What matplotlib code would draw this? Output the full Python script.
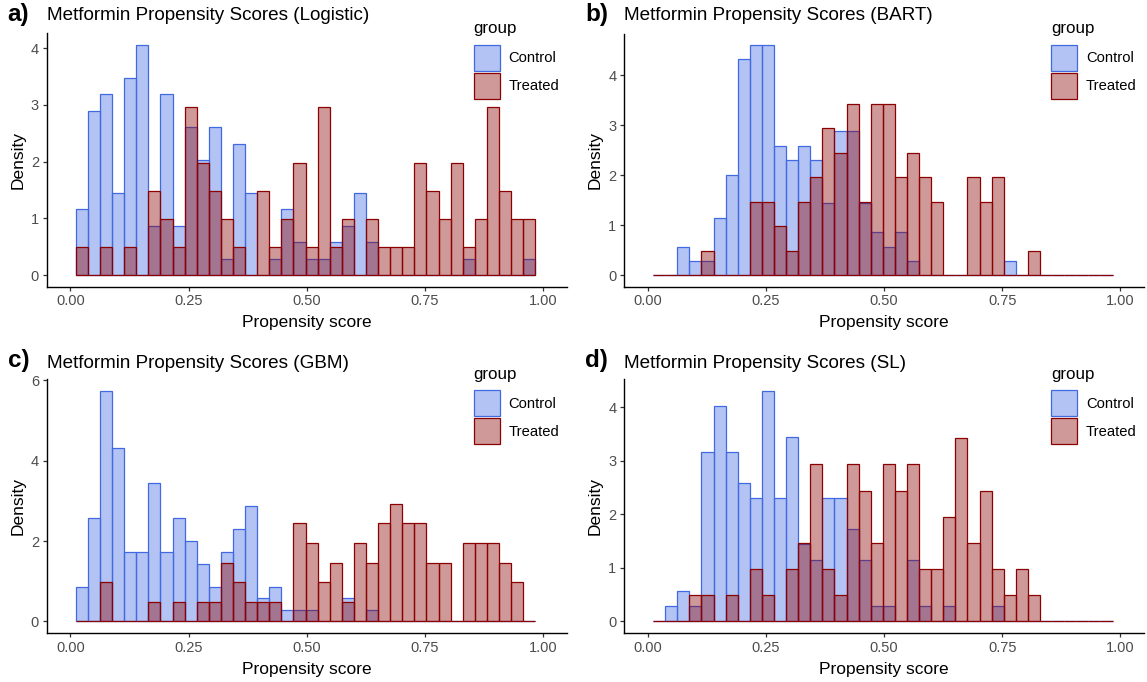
import numpy as np
import matplotlib
matplotlib.use("Agg")
import matplotlib.pyplot as plt
from matplotlib.patches import Patch
from matplotlib.colors import to_rgba

plt.rcParams['font.family'] = ['Liberation Sans', 'DejaVu Sans']

# Histogram binning shared by all four panels (38 bins)
bin_lo, bin_hi, n_bins = 0.0115, 0.9835, 38

# Counts per bin for each propensity-score model
logistic_control = [4, 10, 11, 5, 12, 14, 3, 11, 3, 9, 7, 9, 1, 8, 5, 0, 1, 4, 2, 1,
                    1, 2, 3, 5, 2, 0, 0, 0, 0, 0, 0, 0, 1, 0, 0, 0, 0, 1]
logistic_treated = [1, 0, 1, 0, 1, 0, 3, 2, 1, 6, 4, 3, 2, 1, 0, 3, 1, 2, 4, 1,
                    6, 1, 2, 0, 2, 1, 1, 1, 4, 3, 2, 4, 1, 2, 6, 3, 2, 2]

bart_control = [0, 0, 2, 1, 1, 4, 7, 15, 16, 16, 9, 8, 9, 8, 5, 10, 10, 5, 3, 2,
                3, 1, 0, 0, 0, 0, 0, 0, 0, 1, 0, 0, 0, 0, 0, 0, 0, 0]
bart_treated = [0, 0, 0, 0, 1, 0, 0, 0, 3, 3, 2, 1, 3, 4, 6, 5, 7, 3, 7, 7,
                4, 5, 4, 3, 0, 0, 4, 3, 4, 0, 0, 1, 0, 0, 0, 0, 0, 0]

gbm_control = [3, 9, 20, 15, 6, 6, 12, 6, 9, 7, 5, 3, 6, 8, 10, 2, 3, 1, 1, 1,
               0, 0, 2, 0, 1, 0, 0, 0, 0, 0, 0, 0, 0, 0, 0, 0, 0, 0]
gbm_treated = [0, 0, 2, 0, 0, 0, 1, 0, 1, 0, 1, 1, 3, 2, 1, 1, 1, 0, 5, 4,
               2, 3, 1, 4, 3, 5, 6, 5, 5, 3, 3, 0, 4, 4, 4, 3, 2, 0]

sl_control = [0, 1, 2, 1, 11, 14, 11, 9, 8, 15, 8, 12, 5, 4, 8, 8, 6, 4, 1, 1,
              0, 4, 1, 0, 1, 0, 0, 0, 1, 0, 0, 0, 0, 0, 0, 0, 0, 0]
sl_treated = [0, 0, 0, 1, 1, 0, 1, 0, 2, 1, 0, 2, 3, 6, 2, 1, 6, 5, 3, 6,
              5, 6, 2, 2, 4, 7, 3, 5, 2, 1, 2, 1, 0, 0, 0, 0, 0, 0]

tags = ["a)", "b)", "c)", "d)"]
titles = ["Metformin Propensity Scores (Logistic)",
          "Metformin Propensity Scores (BART)",
          "Metformin Propensity Scores (GBM)",
          "Metformin Propensity Scores (SL)"]
panels = [(logistic_control, logistic_treated),
          (bart_control, bart_treated),
          (gbm_control, gbm_treated),
          (sl_control, sl_treated)]
group_labels = ["Control", "Treated"]
x_ticks = [0.0, 0.25, 0.5, 0.75, 1.0]
x_tick_labels = ["0.00", "0.25", "0.50", "0.75", "1.00"]
y_tick_sets = [[0, 1, 2, 3, 4], [0, 1, 2, 3, 4], [0, 2, 4, 6], [0, 1, 2, 3, 4]]

# Panel boxes in pixels: left, top, right, bottom
W, H = 1147, 682
boxes = [(46.7, 33.5, 566.7, 286.8),
         (624.0, 33.5, 1144.0, 286.8),
         (46.7, 379.0, 566.7, 633.0),
         (624.0, 379.0, 1144.0, 633.0)]

colors = ["royalblue", "darkred"]
fill_alpha = 0.4
text_grey = "#4D4D4D"

edges = np.linspace(bin_lo, bin_hi, n_bins + 1)
width = edges[1] - edges[0]
centers = (edges[:-1] + edges[1:]) / 2

fig = plt.figure(figsize=(W / 100, H / 100), dpi=100)

for i, ((ctrl, trt), box) in enumerate(zip(panels, boxes)):
    l, t, r, b = box
    ax = fig.add_axes([l / W, 1 - b / H, (r - l) / W, (b - t) / H])
    ymax = 0
    for counts, col in zip((ctrl, trt), colors):
        counts = np.asarray(counts, dtype=float)
        dens = counts / (counts.sum() * width)
        ymax = max(ymax, dens.max())
        ax.bar(centers, dens, width=width, align="center",
               facecolor=to_rgba(col, fill_alpha), edgecolor=col,
               linewidth=0.9)
    ax.set_xlim(-0.05, 1.05)
    ax.set_ylim(-0.05 * ymax, 1.05 * ymax)
    ax.set_xticks(x_ticks)
    ax.set_xticklabels(x_tick_labels)
    ax.set_yticks(y_tick_sets[i])
    for s in ("top", "right"):
        ax.spines[s].set_visible(False)
    for s in ("left", "bottom"):
        ax.spines[s].set_linewidth(1.0)
        ax.spines[s].set_color("black")
    ax.tick_params(axis="both", length=3, width=0.9, color="#333333",
                   labelsize=10.5, labelcolor=text_grey, pad=2.5)
    ax.set_xlabel("Propensity score", fontsize=12.5, labelpad=5)
    ax.set_ylabel("Density", fontsize=12.5, labelpad=4)

    # tag and title above the panel
    base = t - 13 if i < 2 else t - 11.5
    fig.text(l / W, 1 - base / H, titles[i], fontsize=13.6,
             ha="left", va="baseline")
    fig.text((l - 39) / W, 1 - base / H, tags[i], fontsize=17.5,
             fontweight="bold", ha="left", va="baseline")

    handles = [Patch(facecolor=to_rgba(c, fill_alpha), edgecolor=c, linewidth=0.9)
               for c in colors]
    leg = ax.legend(handles, group_labels, title="group", frameon=False,
                    loc="upper left",
                    bbox_to_anchor=((r - 93) / W, 1 - (t - 12) / H),
                    bbox_transform=fig.transFigure, borderpad=0,
                    borderaxespad=0, fontsize=10.6, title_fontsize=12.2,
                    handlelength=1.77, handleheight=2.35, labelspacing=0.12,
                    handletextpad=0.6, alignment="left")
    leg._legend_box.sep = 6

fig.savefig("out.png", dpi=100)
